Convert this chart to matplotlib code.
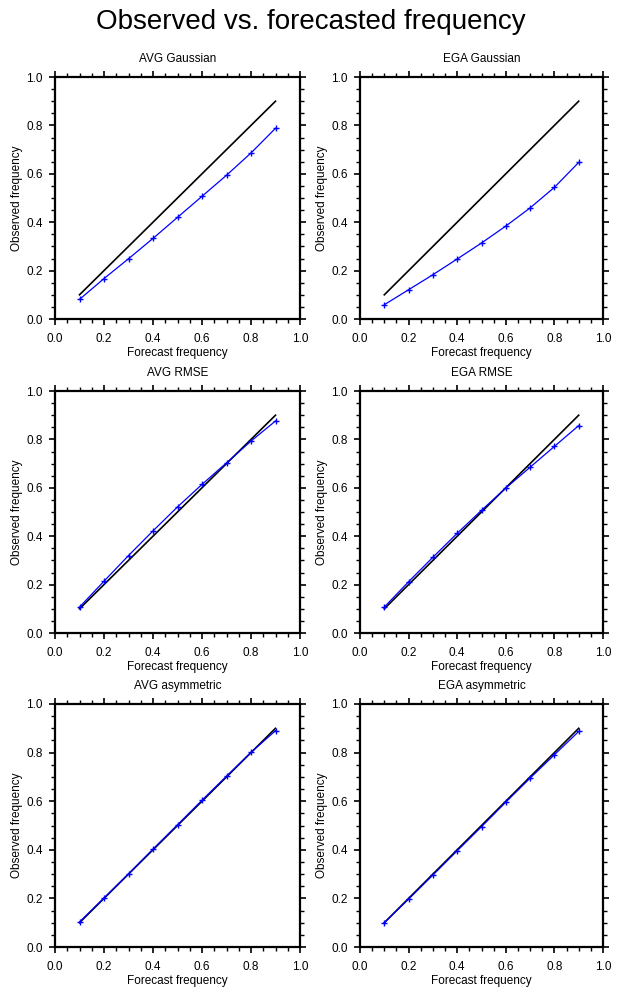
import numpy as np
import matplotlib
matplotlib.use("Agg")
import matplotlib.pyplot as plt
from matplotlib.ticker import MultipleLocator, FormatStrFormatter

plt.rcParams['font.family'] = ['Liberation Sans', 'DejaVu Sans']

forecast = [0.1, 0.2, 0.3, 0.4, 0.5, 0.6, 0.7, 0.8, 0.9]
titles = ["AVG Gaussian", "EGA Gaussian", "AVG RMSE", "EGA RMSE",
          "AVG asymmetric", "EGA asymmetric"]
avg_gaussian = [0.081, 0.167, 0.249, 0.333, 0.420, 0.507, 0.594, 0.686, 0.788]
ega_gaussian = [0.059, 0.121, 0.183, 0.248, 0.314, 0.384, 0.459, 0.544, 0.647]
avg_rmse = [0.107, 0.214, 0.320, 0.422, 0.521, 0.614, 0.703, 0.793, 0.876]
ega_rmse = [0.107, 0.212, 0.313, 0.412, 0.507, 0.599, 0.685, 0.771, 0.857]
avg_asym = [0.103, 0.202, 0.301, 0.403, 0.503, 0.604, 0.703, 0.801, 0.890]
ega_asym = [0.100, 0.197, 0.296, 0.396, 0.495, 0.596, 0.695, 0.791, 0.887]
series = [avg_gaussian, ega_gaussian, avg_rmse, ega_rmse, avg_asym, ega_asym]

W, H = 621, 998
fig = plt.figure(figsize=(W / 100, H / 100), dpi=100)

cols = [(55, 300), (360, 603)]
rows = [(77, 319), (391, 633), (704, 947)]

fig.text(0.5, 1 - 22 / H, "Observed vs. forecasted frequency", ha='center',
         va='center', fontsize=20)

for i, (t, obs) in enumerate(zip(titles, series)):
    r, c = divmod(i, 2)
    x0, x1 = cols[c]
    y0, y1 = rows[r]
    ax = fig.add_axes([x0 / W, 1 - y1 / H, (x1 - x0) / W, (y1 - y0) / H])
    ax.plot(forecast, forecast, color='black', lw=1.2)
    ax.plot(forecast, obs, color='#0000ff', lw=0.9, marker='+', ms=5, mew=1.0)
    ax.set_xlim(0, 1)
    ax.set_ylim(0, 1)
    ax.xaxis.set_major_locator(MultipleLocator(0.2))
    ax.yaxis.set_major_locator(MultipleLocator(0.2))
    ax.xaxis.set_minor_locator(MultipleLocator(0.05))
    ax.yaxis.set_minor_locator(MultipleLocator(0.05))
    ax.xaxis.set_major_formatter(FormatStrFormatter('%.1f'))
    ax.yaxis.set_major_formatter(FormatStrFormatter('%.1f'))
    ax.tick_params(which='both', direction='out', top=True, right=True,
                   labelsize=8.5, width=1.2)
    ax.tick_params(which='major', length=4.3)
    ax.tick_params(which='minor', length=2.6, width=1.0)
    ax.tick_params(axis='x', which='major', pad=5.5)
    ax.tick_params(axis='y', which='major', pad=4.5)
    for s in ax.spines.values():
        s.set_linewidth(1.6)
    ax.set_title(t, fontsize=8.5, pad=10.5)
    ax.set_xlabel("Forecast frequency", fontsize=8.5, labelpad=1.5)
    ax.set_ylabel("Observed frequency", fontsize=8.5, labelpad=2)

fig.savefig("out.png", dpi=100)
